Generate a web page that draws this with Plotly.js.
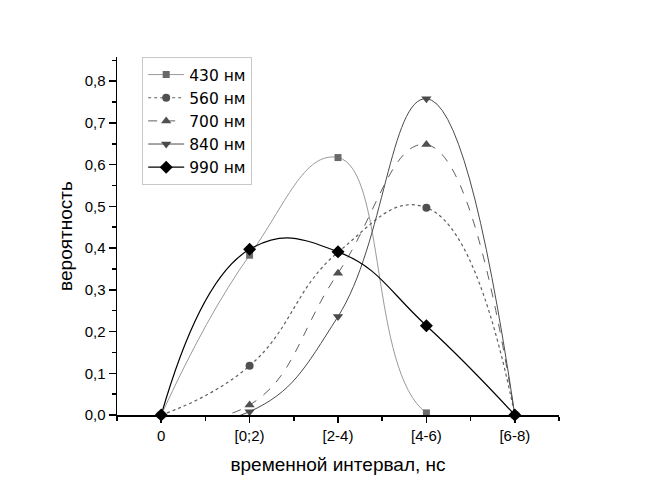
<!DOCTYPE html>
<html>
<head>
<meta charset="utf-8">
<script src="https://cdn.plot.ly/plotly-3.0.1.min.js"></script>
<style>html,body{margin:0;padding:0;background:#fff;}#chart{width:650px;height:498px;}</style>
</head>
<body>
<div id="chart"></div>
<script>
const categories = ["0", "[0;2)", "[2-4)", "[4-6)", "[6-8)"];
const seriesNames = ["430 нм", "560 нм", "700 нм", "840 нм", "990 нм"];
const v430 = [0, 0.383, 0.617, 0.005, 0];
const v560 = [0, 0.118, 0.39, 0.497, 0];
const v700 = [0, 0.024, 0.34, 0.648, 0];
const v840 = [0, 0.008, 0.236, 0.758, 0];
const v990 = [0, 0.397, 0.391, 0.214, 0];
const yTickVals = [0, 0.1, 0.2, 0.3, 0.4, 0.5, 0.6, 0.7, 0.8];

const xIdx = categories.map((c, i) => i);
const FONT = "Liberation Sans, Arial, sans-serif";
const LFONT = "DejaVu Sans, Liberation Sans, sans-serif";

function tr(name, y, symbol, msize, mcolor, lcolor, lwidth, dash) {
  return {
    x: xIdx, y: y, name: name, type: "scatter", mode: "lines+markers",
    cliponaxis: false,
    line: {shape: "spline", smoothing: 1.3, color: lcolor, width: lwidth, dash: dash},
    marker: {symbol: symbol, size: msize, color: mcolor}
  };
}

const data = [
  tr(seriesNames[0], v430, "square", 7, "#6a6a6a", "#9a9a9a", 1, "solid"),
  tr(seriesNames[1], v560, "circle", 8, "#505050", "#606060", 1.2, "dot"),
  tr(seriesNames[2], v700, "triangle-up", 9, "#505050", "#606060", 1, "dash"),
  tr(seriesNames[3], v840, "triangle-down", 9, "#4a4a4a", "#4a4a4a", 1, "solid"),
  tr(seriesNames[4], v990, "diamond", 10, "#000000", "#000000", 1.2, "solid")
];

const minorX = [];
for (let i = 0; i <= categories.length; i++) minorX.push(i - 0.5);

const layout = {
  width: 650, height: 498,
  margin: {l: 117, r: 91, t: 57, b: 83},
  paper_bgcolor: "#fff", plot_bgcolor: "#fff",
  separators: ", ",
  font: {family: FONT, size: 15, color: "#000"},
  showlegend: true,
  legend: {
    x: 0.057, y: 1.0, xanchor: "left", yanchor: "top",
    bordercolor: "#c8c8c8", borderwidth: 1, bgcolor: "#fff",
    font: {family: LFONT, size: 15.5, color: "#000"},
    itemwidth: 36, tracegroupgap: 0
  },
  xaxis: {
    range: [-0.5, 4.5], tickmode: "array", tickvals: xIdx, ticktext: categories,
    showgrid: false, zeroline: false, showline: true, linecolor: "#000", linewidth: 1.5,
    ticks: "outside", ticklen: 6, tickwidth: 1.5, tickcolor: "#000",
    tickfont: {family: FONT, size: 15, color: "#000"},
    minor: {tickmode: "array", tickvals: minorX, ticks: "outside", ticklen: 4, tickwidth: 1.5, tickcolor: "#000", showgrid: false},
    title: {text: "временной интервал, нс", font: {family: FONT, size: 19, color: "#000"}, standoff: 15}
  },
  yaxis: {
    range: [0, 0.858], tickmode: "array", tickvals: yTickVals, tickformat: ".1f",
    showgrid: false, zeroline: false, showline: true, linecolor: "#000", linewidth: 1.5,
    ticks: "outside", ticklen: 7, tickwidth: 1.5, tickcolor: "#000",
    tickfont: {family: FONT, size: 15, color: "#000"},
    minor: {dtick: 0.05, tick0: 0, ticks: "outside", ticklen: 4, tickwidth: 1.5, tickcolor: "#000", showgrid: false},
    title: {text: "вероятность", font: {family: FONT, size: 19, color: "#000"}, standoff: 7}
  }
};

Plotly.newPlot("chart", data, layout, {displayModeBar: false, staticPlot: true});
</script>
</body>
</html>
